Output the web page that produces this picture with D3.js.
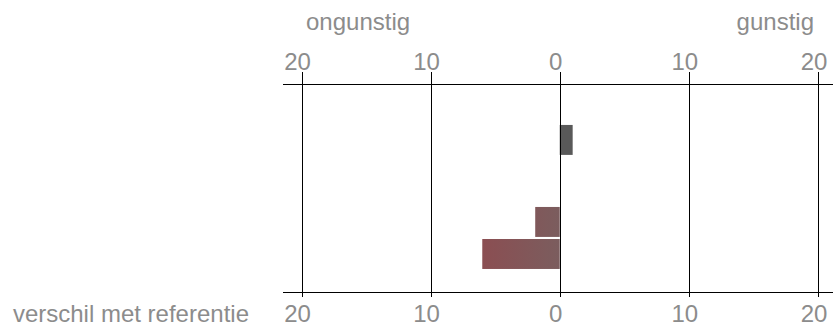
<!DOCTYPE html>
<html><head><meta charset="utf-8">
<script src="https://cdn.jsdelivr.net/npm/d3@7"></script>
<style>body{margin:0;background:#fff}svg{display:block}text{font-family:"Liberation Sans",Arial,sans-serif;fill:#8c8c8c}</style>
</head><body>
<script>
const groups = ["groep 1", "groep 2"];
const series = ["reeks 1", "reeks 2"];
const valuesS1 = [1.0, -1.9];
const valuesS2 = [null, -6.0];
const tickValues = [-20, -10, 0, 10, 20];
const leftLabel = "ongunstig", rightLabel = "gunstig", axisTitle = "verschil met referentie";

const W = 840, H = 329;
const svg = d3.select("body").append("svg").attr("width", W).attr("height", H);
const x = d3.scaleLinear().domain([-20, 20]).range([301.5, 818]);
const y = d3.scaleBand().domain(groups).range([84, 292]).paddingInner(0.244).paddingOuter(0.39).align(0.64);
const ys = d3.scaleBand().domain(series).range([0, y.bandwidth()]).paddingInner(0.065);

const defs = svg.append("defs");
const grad = defs.append("linearGradient").attr("id", "neg").attr("gradientUnits", "userSpaceOnUse")
  .attr("x1", x(0)).attr("x2", x(-20)).attr("y1", 0).attr("y2", 0);
grad.append("stop").attr("offset", 0).attr("stop-color", "#7b5d5e");
grad.append("stop").attr("offset", 1).attr("stop-color", "#b02b36");

const rows = [];
groups.forEach((g, i) => {
  [[series[0], valuesS1[i]], [series[1], valuesS2[i]]].forEach(([s, v]) => {
    if (v !== null) rows.push({g, s, v});
  });
});

svg.append("g").selectAll("rect").data(rows).join("rect")
  .attr("x", d => x(Math.min(0, d.v)))
  .attr("width", d => Math.abs(x(d.v) - x(0)))
  .attr("y", d => y(d.g) + ys(d.s))
  .attr("height", ys.bandwidth())
  .attr("fill", d => d.v >= 0 ? "#595959" : "url(#neg)");

// grid lines
svg.append("g").selectAll("line").data(tickValues).join("line")
  .attr("x1", d => Math.round(x(d)) + 0.5).attr("x2", d => Math.round(x(d)) + 0.5)
  .attr("y1", 72).attr("y2", 297).attr("stroke", "#000").attr("stroke-width", 1);
// axis lines
[84, 292].forEach(yy => {
  svg.append("line").attr("x1", 283).attr("x2", 833).attr("y1", yy + 0.5).attr("y2", yy + 0.5)
    .attr("stroke", "#000").attr("stroke-width", 1);
});

const fmt = d => Math.abs(d);
svg.append("g").selectAll("text").data(tickValues).join("text")
  .attr("x", d => x(d) - 4).attr("y", 70).attr("text-anchor", "middle")
  .attr("font-size", 24).text(fmt);
svg.append("g").selectAll("text").data(tickValues).join("text")
  .attr("x", d => x(d) - 4).attr("y", 322).attr("text-anchor", "middle")
  .attr("font-size", 24).text(fmt);

svg.append("text").attr("x", 306).attr("y", 30).attr("font-size", 24).text(leftLabel);
svg.append("text").attr("x", 814).attr("y", 30).attr("text-anchor", "end").attr("font-size", 24).text(rightLabel);
svg.append("text").attr("x", 249).attr("y", 322).attr("text-anchor", "end").attr("font-size", 24).text(axisTitle);
</script>
</body></html>
